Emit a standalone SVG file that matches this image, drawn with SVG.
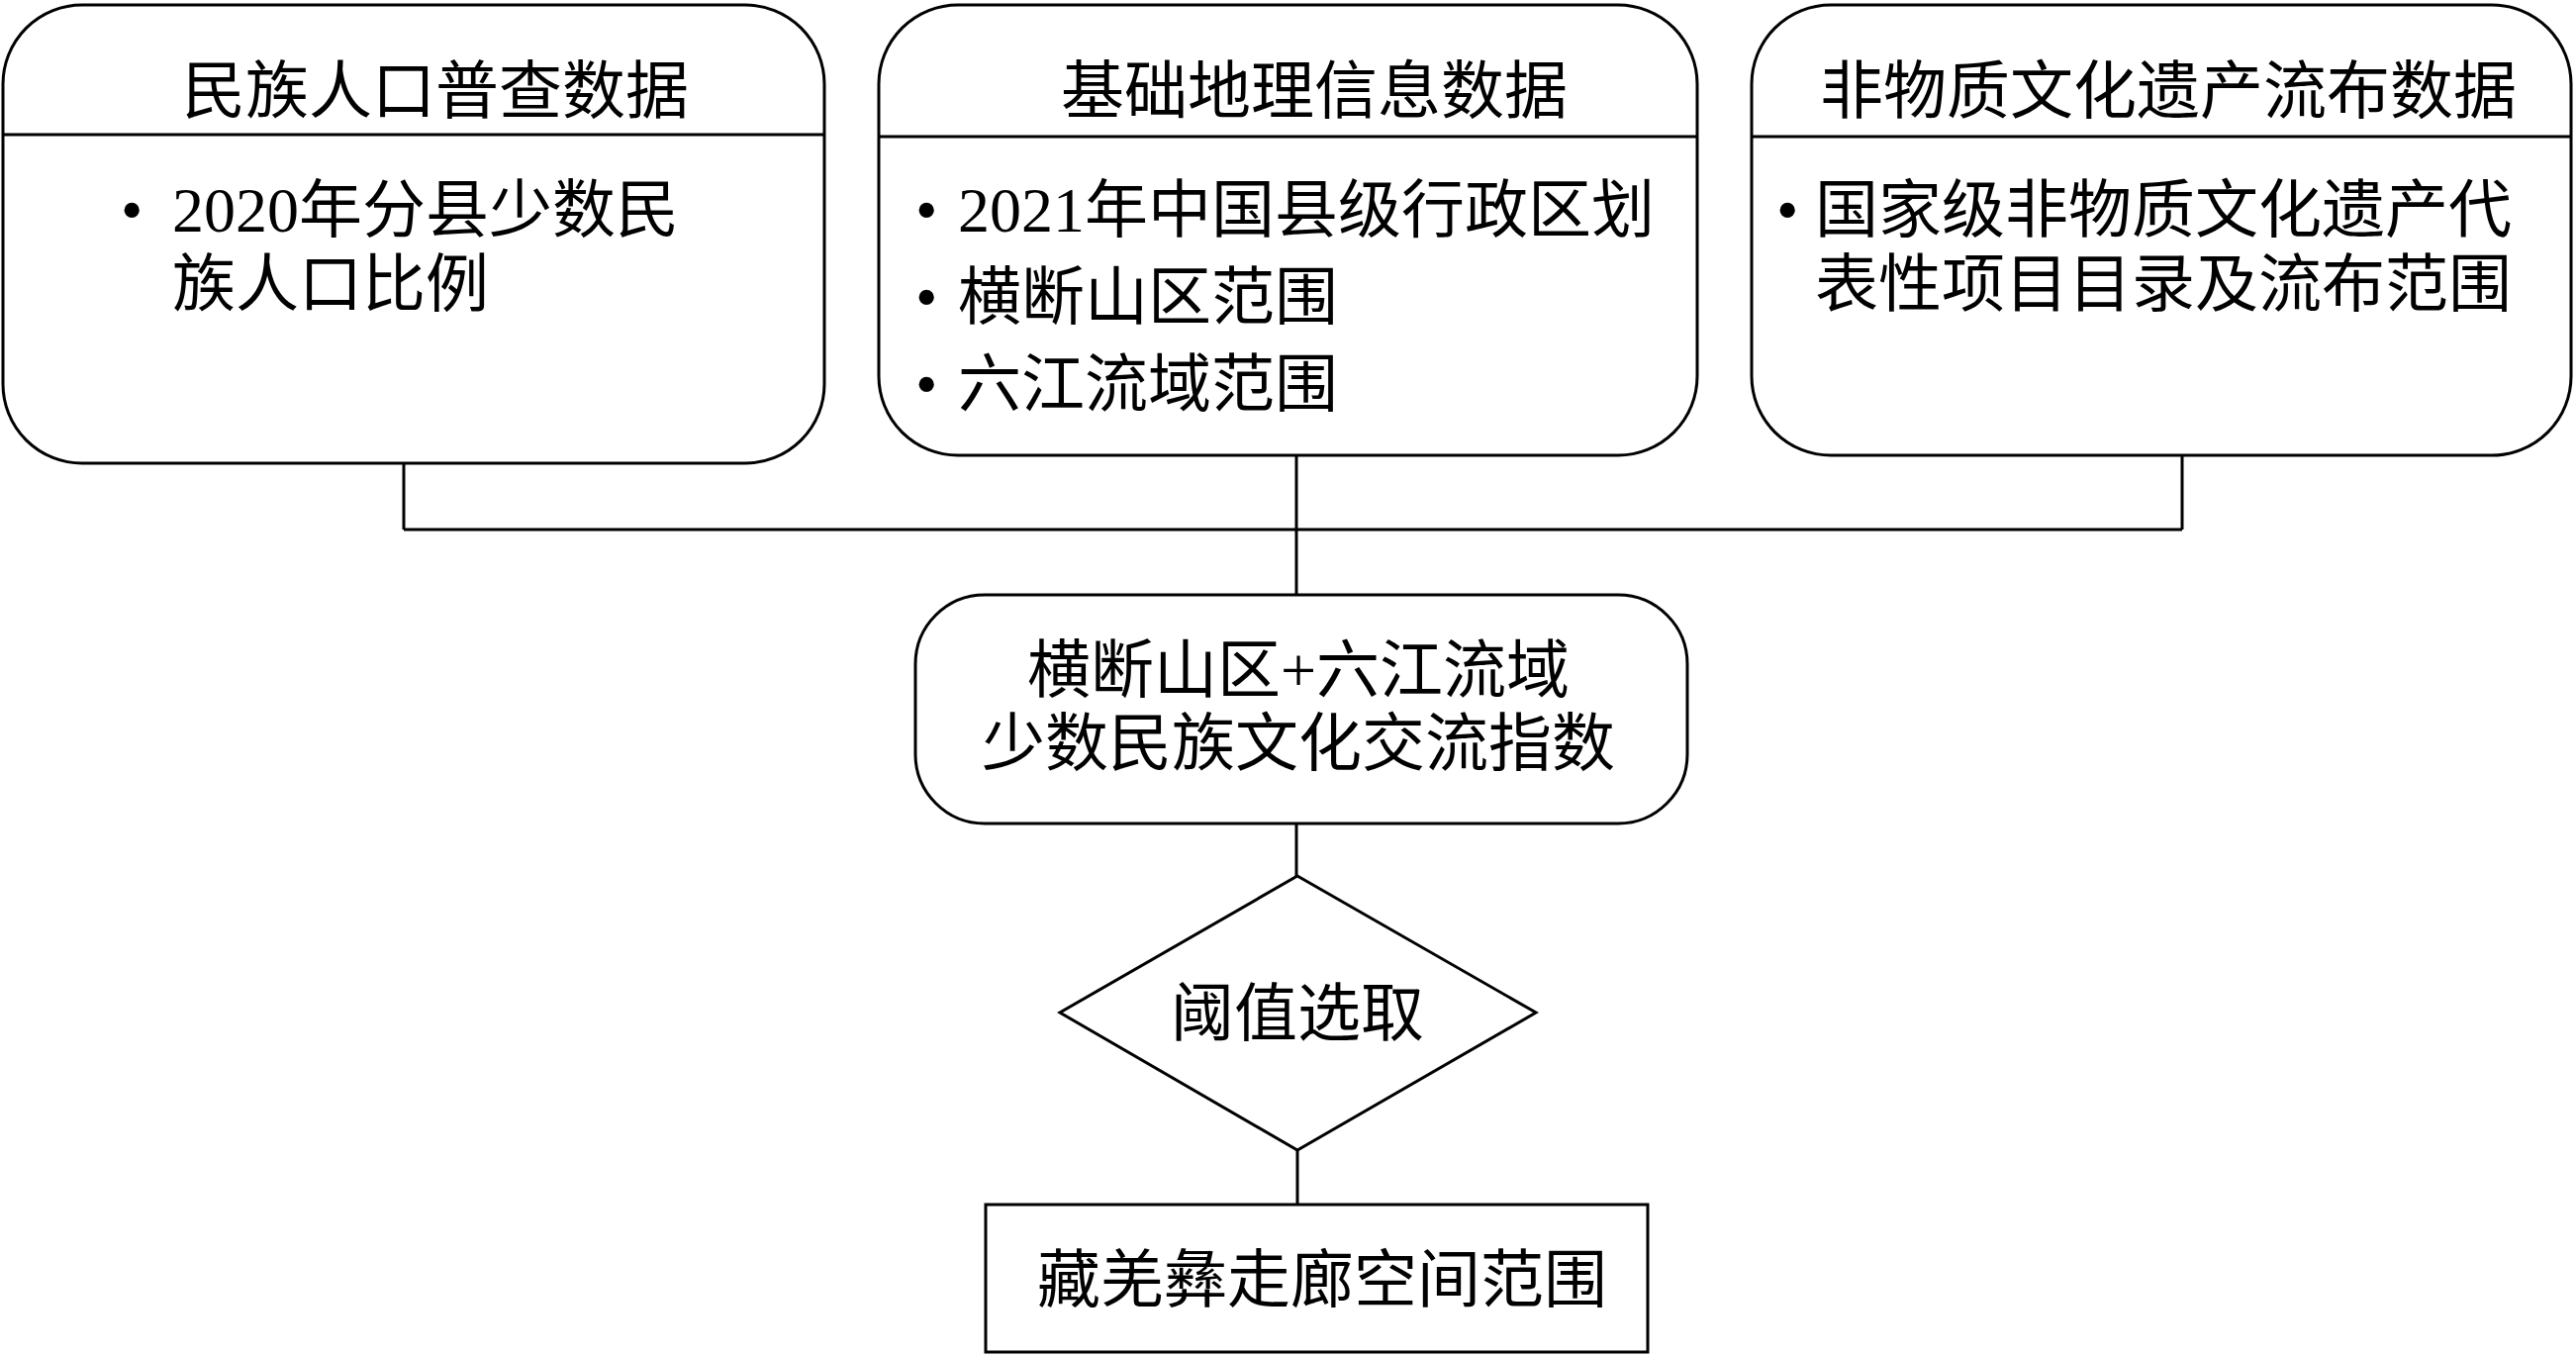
<svg xmlns="http://www.w3.org/2000/svg" width="2603" height="1370" viewBox="0 0 2603 1370">
<style>
.b{fill:#fff;stroke:#000;stroke-width:3}
.l{stroke:#000;stroke-width:3;fill:none}
text{font-family:"Liberation Serif","Noto Sans CJK SC",serif;font-size:64px;fill:#000}
.c{text-anchor:middle}
</style>
<rect width="2603" height="1370" fill="#fff"/>
<g id="connectors">
<path class="l" d="M408 468V535M1310 460V601M2205 460V535M408 535H2205M1310 832V885M1311 1162V1217"/>
</g>
<g id="n1">
<rect class="b" x="3" y="5" width="830" height="463" rx="80"/>
<line class="l" x1="3" y1="136" x2="833" y2="136"/>
<text class="c" x="440" y="114">民族人口普查数据</text>
<text x="122" y="234">•</text><text x="174" y="234">2020年分县少数民</text>
<text x="174" y="309">族人口比例</text>
</g>
<g id="n2">
<rect class="b" x="888" y="5" width="827" height="455" rx="80"/>
<line class="l" x1="888" y1="138" x2="1715" y2="138"/>
<text class="c" x="1328" y="114">基础地理信息数据</text>
<text x="925" y="234">•</text><text x="968" y="234">2021年中国县级行政区划</text>
<text x="925" y="322">•</text><text x="968" y="322">横断山区范围</text>
<text x="925" y="410">•</text><text x="968" y="410">六江流域范围</text>
</g>
<g id="n3">
<rect class="b" x="1770" y="5" width="828" height="455" rx="80"/>
<line class="l" x1="1770" y1="138" x2="2598" y2="138"/>
<text class="c" x="2191" y="114">非物质文化遗产流布数据</text>
<text x="1795" y="234">•</text><text x="1834" y="234">国家级非物质文化遗产代</text>
<text x="1834" y="309">表性项目目录及流布范围</text>
</g>
<g id="n4">
<rect class="b" x="925" y="601" width="780" height="231" rx="70"/>
<text class="c" x="1312" y="699">横断山区+六江流域</text>
<text class="c" x="1312" y="773">少数民族文化交流指数</text>
</g>
<g id="n5">
<polygon class="b" points="1311,885 1552,1023 1311,1162 1071,1023"/>
<text class="c" x="1311" y="1046">阈值选取</text>
</g>
<g id="n6">
<rect class="b" x="996" y="1217" width="669" height="149"/>
<text class="c" x="1336" y="1315">藏羌彝走廊空间范围</text>
</g>
</svg>
